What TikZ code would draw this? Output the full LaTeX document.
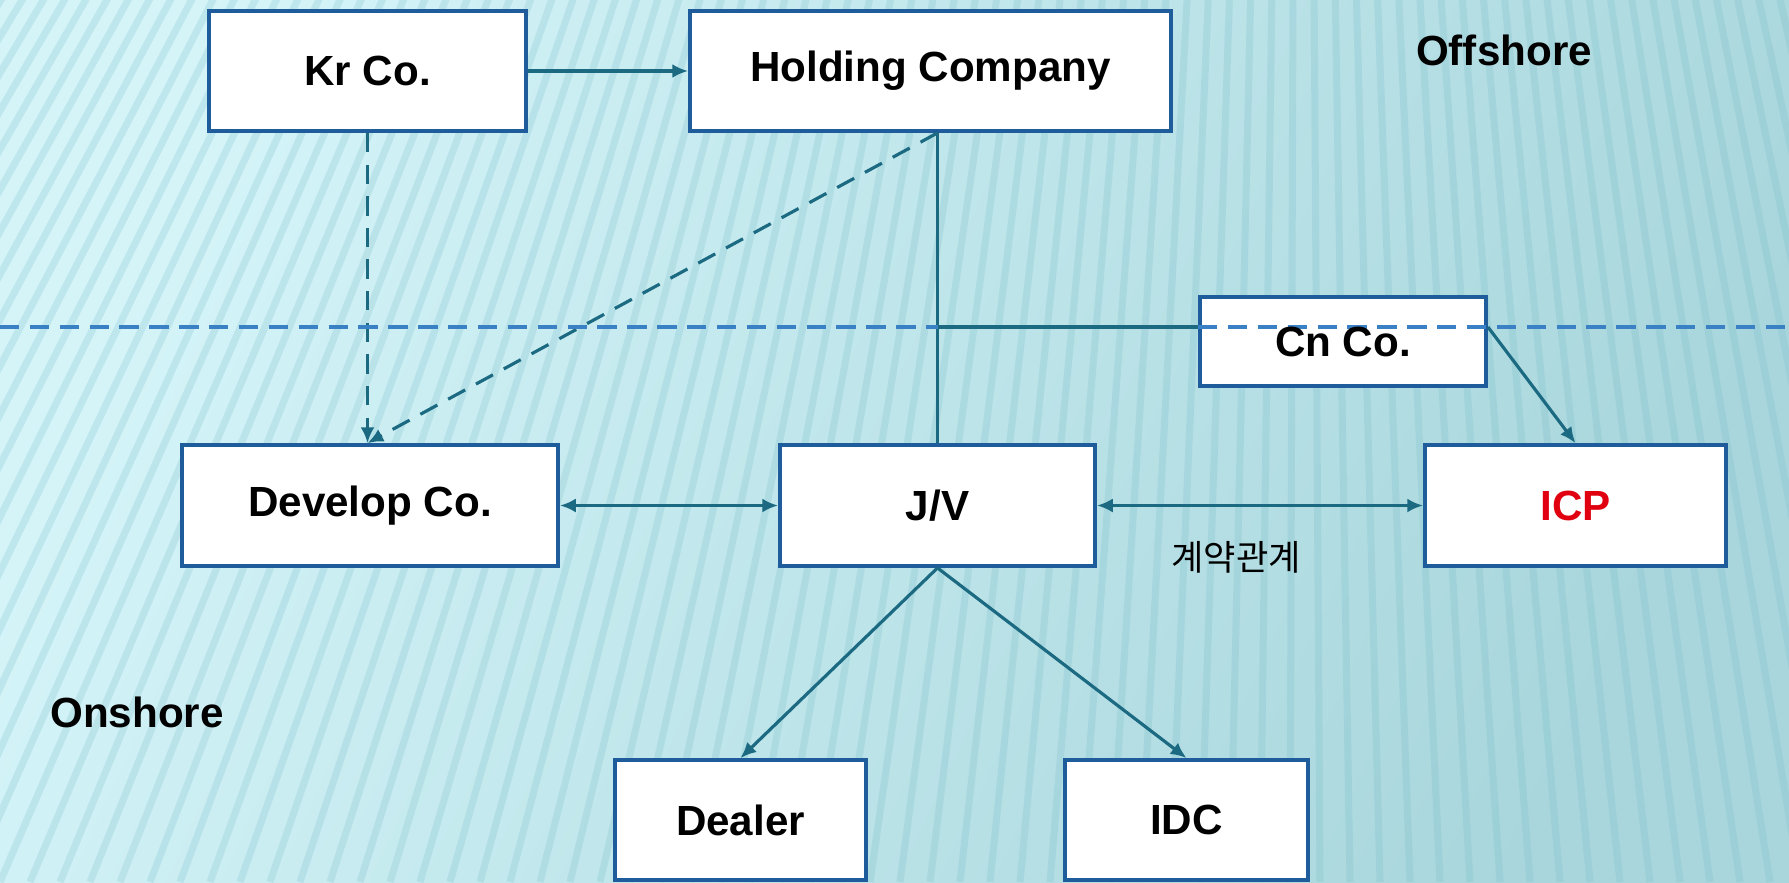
\documentclass[tikz,border=0pt]{standalone}
\usepackage{fontspec}
\setmainfont{Liberation Sans}
\newfontfamily\krfont{Noto Sans CJK KR}
\usetikzlibrary{arrows.meta}

\definecolor{boxblue}{HTML}{1E5C9C}
\definecolor{linkteal}{HTML}{1B6A82}
\definecolor{seablue}{HTML}{3A80C4}
\definecolor{icpred}{HTML}{E0000F}
\definecolor{bgtl}{HTML}{D4F4F8}
\definecolor{bgmid}{HTML}{C8EEF2}
\definecolor{bgbr}{HTML}{A8D6DC}
\definecolor{stripecol}{HTML}{72B8C6}

\begin{document}
\begin{tikzpicture}

% Define styles
\tikzstyle{box}=[draw=boxblue, line width=1.1pt, fill=white, inner sep=0pt, font=\bfseries\fontsize{12}{14}\selectfont]
\tikzstyle{boxtext}=[inner sep=0pt, font=\bfseries\fontsize{12}{14}\selectfont]
\tikzstyle{link}=[draw=linkteal, line width=0.9pt]
\tikzstyle{tip}=[-{Latex[length=4.5pt,width=4pt]}]
\tikzstyle{dashlink}=[link, dash pattern=on 5.5pt off 3.5pt]
\tikzstyle{sealine}=[draw=seablue, line width=0.9pt, dash pattern=on 5.5pt off 3pt]
\tikzstyle{stripe}=[draw=stripecol, line width=2pt, opacity=0.22]
\tikzstyle{tag}=[font=\bfseries\fontsize{12}{14}\selectfont]

% Parameters
\def\W{17.89}
\def\H{8.82}
\def\seay{5.55}

\useasboundingbox (0,0) rectangle (\W,\H);

% Background
\shade[top color=bgtl, middle color=bgmid, bottom color=bgbr, shading angle=65] (0,0) rectangle (\W,\H);
\begin{scope}
  \clip (0,0) rectangle (\W,\H);
  \foreach \x in {-6,-5.7,...,21} {
    \draw[stripe] (13,30) -- (\x,0);
  }
\end{scope}

% Boxes
\node[box, minimum width=3.17cm, minimum height=1.20cm] (kr) at (3.675,8.11) {Kr Co.};
\node[box, minimum width=4.81cm, minimum height=1.20cm] (hold) at (9.305,8.11) {Holding Company};
\node[box, minimum width=2.86cm, minimum height=0.89cm] (cn) at (13.43,5.405) {};
\node[box, minimum width=3.76cm, minimum height=1.21cm] (dev) at (3.70,3.765) {Develop Co.};
\node[box, minimum width=3.15cm, minimum height=1.21cm] (jv) at (9.375,3.765) {J/V};
\node[box, minimum width=3.01cm, minimum height=1.21cm, text=icpred] (icp) at (15.755,3.765) {ICP};
\node[box, minimum width=2.51cm, minimum height=1.20cm] (dealer) at (7.405,0.62) {Dealer};
\node[box, minimum width=2.43cm, minimum height=1.20cm] (idc) at (11.865,0.62) {IDC};

% Border between offshore and onshore
\coordinate (seaL) at (0,\seay);
\coordinate (seaR) at (\W,\seay);
\coordinate (top) at (jv.north |- hold.south);
\coordinate (tap) at (jv.north |- seaL);

% Connectors
\draw[link, tip] (kr) -- (hold);
\draw[dashlink, tip] (kr.south) -- (kr.south |- dev.north);
\draw[dashlink, tip] (top) -- (kr.south |- dev.north);
\draw[link] (top) -- (jv.north);
\draw[link] (tap) -- (cn.west |- seaL);
\draw[link, tip] (cn.east |- seaL) -- (icp.north);
\draw[link, {Latex[length=4.5pt,width=4pt]}-{Latex[length=4.5pt,width=4pt]}] (dev) -- (jv);
\draw[link, {Latex[length=4.5pt,width=4pt]}-{Latex[length=4.5pt,width=4pt]}] (jv) -- (icp);
\draw[link, tip] (jv.south) -- (dealer.north);
\draw[link, tip] (jv.south) -- (idc.north);

\draw[sealine] (seaL) -- (tap);
\draw[sealine] (cn.west |- seaL) -- (seaR);
\node[boxtext] (cntext) at (cn) {Cn Co.};

% Labels
\node[tag] (off) at (15.04,8.32) {Offshore};
\node[tag] (on) at (1.37,1.70) {Onshore};
\node[font=\krfont\fontsize{10}{12}\selectfont] (deal) at (12.36,3.25) {계약관계};

\end{tikzpicture}
\end{document}
